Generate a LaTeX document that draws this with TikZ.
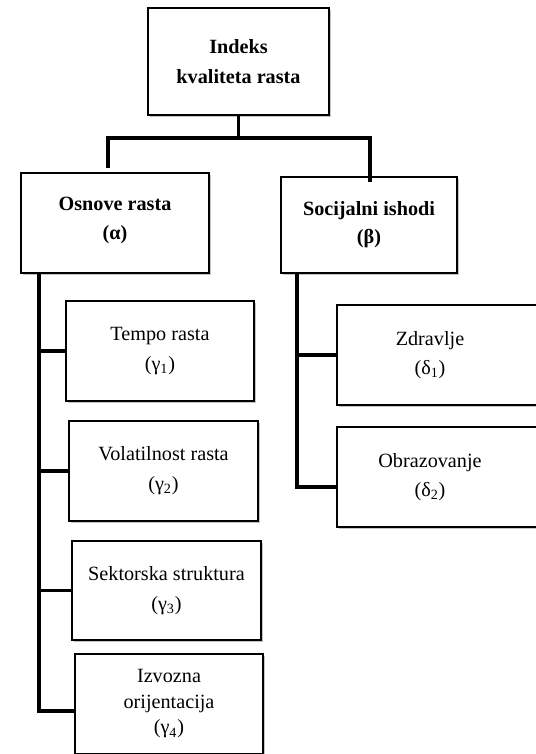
\documentclass[tikz,border=0pt]{standalone}
\usepackage{fontspec}
\setmainfont{Liberation Serif}
\usepackage{tikz}
\usetikzlibrary{shadows}

\begin{document}
\begin{tikzpicture}[x=0.02cm,y=-0.02cm,
  box/.style={draw, line width=0.8pt, fill=white, align=center, inner sep=2pt,
    font=\fontsize{11.5}{14.5}\selectfont,
    drop shadow={shadow xshift=1.3pt, shadow yshift=-1.4pt, fill=black!45}},
  head/.style={box, font=\bfseries\fontsize{11.5}{14.5}\selectfont},
  conn/.style={line width=2pt}]
\useasboundingbox (0,0) rectangle (535,754);
%----index----%
\node[head, minimum width=3.62cm, minimum height=2.14cm] (idx) at (238.5,61.5) {Indeks\\[2.5pt]kvaliteta rasta};
%----alpha / beta----%
\node[head, minimum width=3.76cm, minimum height=2cm, text depth=0.2cm] (osn) at (115,223) {Osnove rasta\\[2pt](α)};
\node[head, minimum width=3.52cm, minimum height=1.92cm] (soc) at (369,225) {Socijalni ishodi\\[1.5pt](β)};
%----gamma----%
\node[box, minimum width=3.76cm, minimum height=2cm] (g1) at (160,351) {Tempo rasta\\[2.5pt](γ\textsubscript{1})};
\node[box, minimum width=3.78cm, minimum height=2cm] (g2) at (163.5,471) {Volatilnost rasta\\[2.5pt](γ\textsubscript{2})};
\node[box, minimum width=3.78cm, minimum height=1.98cm] (g3) at (166.5,590.5) {Sektorska struktura\\[2.5pt](γ\textsubscript{3})};
\node[box, minimum width=3.76cm, minimum height=2cm] (g4) at (169,704) {Izvozna\\orijentacija\\(γ\textsubscript{4})};
%----delta----%
\node[box, minimum width=4.16cm, minimum height=2cm] (d1) at (441,355) {Zdravlje\hspace*{0.44cm}\\[2pt](δ\textsubscript{1})\hspace*{0.44cm}};
\node[box, minimum width=4.16cm, minimum height=2cm] (d2) at (441,477) {Obrazovanje\hspace*{0.44cm}\\[2pt](δ\textsubscript{2})\hspace*{0.44cm}};
%----connectors----%
\coordinate (busL) at (108,138);
\coordinate (busR) at (370,138);
\coordinate (lEnd) at (108,168);
\coordinate (rEnd) at (370,182);
\coordinate (aEnd) at (39,711);
\coordinate (bEnd) at (297,487);
\draw[conn] (idx.south) -- (idx.south |- busL);
\draw[conn] (lEnd) -- (busL) -- (busR) -- (rEnd);
%----alpha----%
\draw[conn] (osn.south -| aEnd) -- (aEnd) -- (aEnd -| g4.west);
\draw[conn] (aEnd |- g1.west) -- (g1.west);
\draw[conn] (aEnd |- g2.west) -- (g2.west);
\draw[conn] (aEnd |- g3.west) -- (g3.west);
%----beta----%
\draw[conn] (soc.south -| bEnd) -- (bEnd) -- (bEnd -| d2.west);
\draw[conn] (bEnd |- d1.west) -- (d1.west);
\end{tikzpicture}
\end{document}
